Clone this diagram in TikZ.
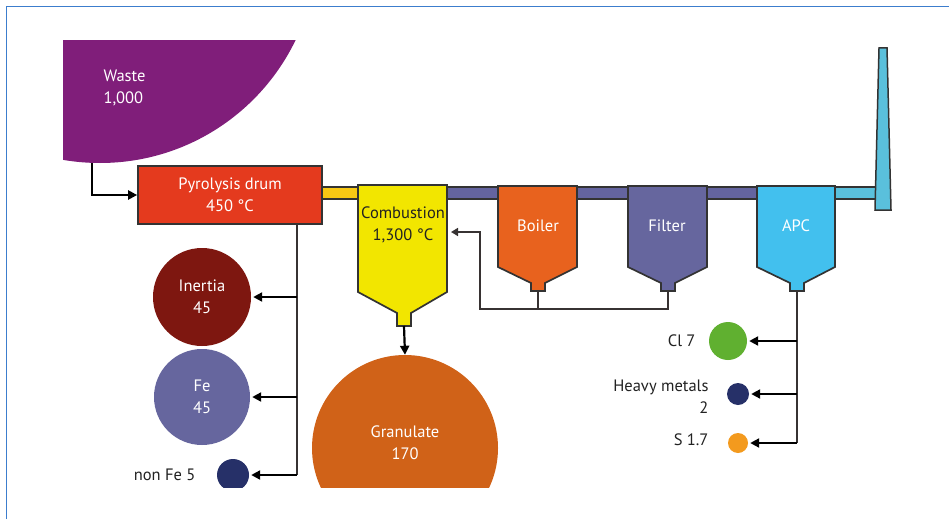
\documentclass[tikz,border=0pt]{standalone}
\usepackage{fontspec}
\setmainfont{PT Sans}
\usetikzlibrary{arrows.meta}
\definecolor{frameblue}{RGB}{60,125,205}
\definecolor{wastepurple}{RGB}{128,30,122}
\definecolor{pyrored}{RGB}{228,58,30}
\definecolor{pipeyellow}{RGB}{248,200,20}
\definecolor{combyellow}{RGB}{242,230,0}
\definecolor{pipepurple}{RGB}{100,100,160}
\definecolor{boilerorange}{RGB}{232,98,30}
\definecolor{filterpurple}{RGB}{102,102,158}
\definecolor{apcblue}{RGB}{66,192,238}
\definecolor{chimblue}{RGB}{90,192,220}
\definecolor{inertred}{RGB}{126,23,16}
\definecolor{fepurple}{RGB}{102,102,158}
\definecolor{navy}{RGB}{38,48,104}
\definecolor{granorange}{RGB}{208,98,24}
\definecolor{clgreen}{RGB}{96,176,48}
\definecolor{sorange}{RGB}{243,154,30}
\definecolor{txtdark}{RGB}{34,34,34}
\definecolor{linegrey}{RGB}{55,50,50}
\tikzset{
  outlined/.style={draw=black!80, line width=1.7pt, line join=miter},
  pipe/.style={draw=black!80, line width=1.5pt},
  wlabel/.style={text=white, font=\fontsize{16.5}{22}\selectfont, align=center},
  dlabel/.style={text=txtdark, font=\fontsize{16.5}{22}\selectfont, align=right},
  disk/.style={circle, inner sep=0pt, minimum size=#1},
  feed/.style={draw=black, line width=2.2pt, -{Triangle[length=9pt,width=9pt]}},
  trunk/.style={draw=linegrey, line width=2pt},
  recirc/.style={draw=linegrey, line width=1.6pt},
  recarrow/.style={draw=linegrey, line width=1.6pt, -{Triangle[length=7pt,width=8pt]}},
}
\begin{document}
\begin{tikzpicture}[x=1pt,y=-1pt]
\useasboundingbox (0,0) rectangle (949,519);
\fill[white] (0,0) rectangle (949,519);
% frame
\draw[frameblue, line width=1.5pt] (6.5,519) -- (6.5,6.5) -- (949,6.5);

% waste
\begin{scope}
  \clip (63,41) rectangle (400,163);
  \fill[wastepurple] (100,-54) circle (217);
\end{scope}
\node[wlabel, align=left, anchor=west] (waste) at (100,88) {Waste\\1,000};
\coordinate (wasteOut) at (92,163);

% pipes
\draw[pipe, fill=pipeyellow] (320,187) rectangle (358,199);
\draw[pipe, fill=pipepurple] (447,187) rectangle (498,199);
\draw[pipe, fill=pipepurple] (577,187) rectangle (628,199);
\draw[pipe, fill=pipepurple] (707,187) rectangle (757,199);
\draw[pipe, fill=chimblue] (835,187) rectangle (877,199);

% pyrolysis drum
\node[outlined, fill=pyrored, minimum width=184pt, minimum height=58pt, wlabel] (pyro) at (230,195) {Pyrolysis drum\\450 °C};

% vessels
\draw[outlined, fill=combyellow] (358,185) -- (447,185) -- (447,292) -- (411,313) -- (411,326) -- (397,326) -- (397,313) -- (358,292) -- cycle;
\node[dlabel, align=center] (comb) at (403,225) {Combustion\\1,300 °C};
\coordinate (combOut) at (404,326);
\coordinate (combIn) at (451,232);

\draw[outlined, fill=boilerorange] (498,186) -- (577,186) -- (577,267) -- (545,283) -- (545,291) -- (531,291) -- (531,283) -- (498,267) -- cycle;
\node[wlabel] (boiler) at (538,226) {Boiler};
\coordinate (boilerOut) at (538,291);

\draw[outlined, fill=filterpurple] (628,186) -- (707,186) -- (707,267) -- (675,283) -- (675,291) -- (661,291) -- (661,283) -- (628,267) -- cycle;
\node[wlabel] (filter) at (667,226) {Filter};
\coordinate (filterOut) at (668,291);

\draw[outlined, fill=apcblue] (757,186) -- (835,186) -- (835,267) -- (804,283) -- (804,291) -- (790,291) -- (790,283) -- (757,267) -- cycle;
\node[wlabel] (apc) at (796,226) {APC};
\coordinate (apcOut) at (797,291);

% chimney
\draw[outlined, line width=1.5pt, fill=chimblue] (875,210) -- (879,48) -- (887,48) -- (891,210) -- cycle;

% waste feed
\draw[feed] (wasteOut) |- (pyro.west);

% recirculation
\coordinate (recJ) at (480,309);
\draw[recirc] (boilerOut) -- (boilerOut |- recJ);
\draw[recarrow] (filterOut) |- (recJ) |- (combIn);

% pyrolysis residues
\node[disk=98pt, fill=inertred, wlabel] (inertia) at (202,297) {Inertia\\45};
\node[disk=96pt, fill=fepurple, wlabel] (fe) at (202,397) {Fe\\45};
\begin{scope}
  \clip (0,0) rectangle (949,487);
  \node[disk=32pt, fill=navy] (nonfe) at (233,475) {};
  \node[disk=186pt, fill=granorange] (gran) at (405,448) {};
\end{scope}
\node[wlabel] (granlbl) at (405,443) {Granulate\\170};
\node[dlabel, anchor=east] (nonfelbl) at (199,475) {non Fe 5};
\coordinate (pyroOut) at (297,224);
\draw[trunk] (pyroOut) -- (pyroOut |- nonfe.east);
\draw[feed] (pyroOut |- inertia.east) -- ([xshift=2pt]inertia.east);
\draw[feed] (pyroOut |- fe.east) -- ([xshift=2pt]fe.east);
\draw[feed] (pyroOut |- nonfe.east) -- ([xshift=2pt]nonfe.east);
\draw[feed] (combOut) -- (gran.north);

% APC residues
\node[disk=38pt, fill=clgreen] (cl) at (728,341) {};
\node[disk=22pt, fill=navy] (hm) at (738,394) {};
\node[disk=20pt, fill=sorange] (s) at (738,443) {};
\node[dlabel, anchor=east] (cllbl) at (699,341) {Cl 7};
\node[dlabel, anchor=east] (hmlbl) at (712,397) {Heavy metals\\2};
\node[dlabel, anchor=east] (slbl) at (712,440) {S 1.7};
\draw[trunk] (apcOut) -- (apcOut |- s.east);
\draw[feed] (apcOut |- cl.east) -- ([xshift=2pt]cl.east);
\draw[feed] (apcOut |- hm.east) -- ([xshift=2pt]hm.east);
\draw[feed] (apcOut |- s.east) -- ([xshift=2pt]s.east);
\end{tikzpicture}
\end{document}
